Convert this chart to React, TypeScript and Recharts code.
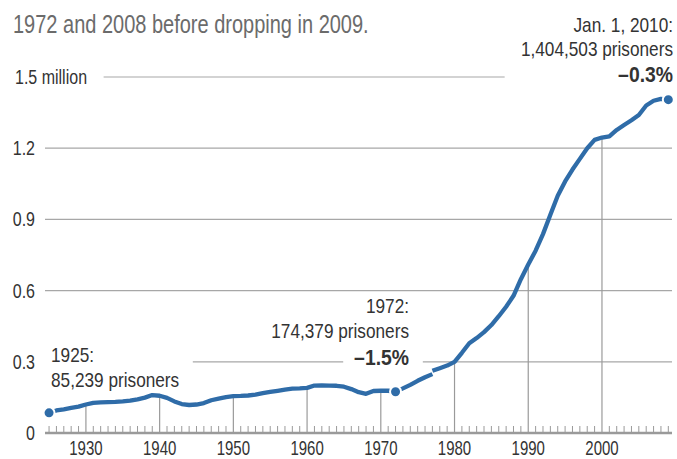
import React from 'react';
import { LineChart, Line, XAxis, YAxis, ReferenceLine, ReferenceDot } from 'recharts';

// state prisoners, millions
const years = [
  1925, 1926, 1927, 1928, 1929, 1930, 1931, 1932, 1933, 1934, 1935, 1936, 1937, 1938, 1939,
  1940, 1941, 1942, 1943, 1944, 1945, 1946, 1947, 1948, 1949, 1950, 1951, 1952, 1953, 1954,
  1955, 1956, 1957, 1958, 1959, 1960, 1961, 1962, 1963, 1964, 1965, 1966, 1967, 1968, 1969,
  1970, 1971, 1972, 1973, 1974, 1975, 1976, 1977, 1978, 1979, 1980, 1981, 1982, 1983, 1984,
  1985, 1986, 1987, 1988, 1989, 1990, 1991, 1992, 1993, 1994, 1995, 1996, 1997, 1998, 1999,
  2000, 2001, 2002, 2003, 2004, 2005, 2006, 2007, 2008, 2009,
];

// 1925-1977
const earlySeries = [
  0.085, 0.095, 0.1, 0.106, 0.111, 0.12, 0.127, 0.129, 0.13, 0.131, 0.133, 0.136, 0.142, 0.149, 0.16,
  0.157, 0.148, 0.133, 0.122, 0.118, 0.12, 0.126, 0.138, 0.145, 0.151, 0.155, 0.156, 0.158, 0.162, 0.168,
  0.173, 0.178, 0.183, 0.187, 0.188, 0.19, 0.2, 0.201, 0.2, 0.199, 0.195, 0.185, 0.172, 0.165, 0.177,
  0.178, 0.178, 0.174, 0.188, 0.203, 0.22, 0.235, 0.248,
];

// 1977-2009
const lateSeries = [
  0.262, 0.273, 0.284, 0.3, 0.338, 0.378, 0.4, 0.425,
  0.455, 0.492, 0.532, 0.578, 0.648, 0.71, 0.768, 0.838, 0.92, 1.0, 1.06, 1.11, 1.155, 1.2, 1.235,
  1.245, 1.25, 1.277, 1.298, 1.318, 1.34, 1.38, 1.4, 1.408, 1.4045,
];

const yTicks = [0, 0.3, 0.6, 0.9, 1.2, 1.5];
const decades = [1930, 1940, 1950, 1960, 1970, 1980, 1990, 2000];
const highlightYears = [1925, 1972, 2009];

const BLUE = '#2f6ca8';
const GRID = '#a7a7a7';
const FONT = '"Liberation Sans", Arial, sans-serif';

const splitYear = earlySeries.length - 1 + years[0];

const data = years.map((year, i) => ({
  year,
  early: year <= splitYear ? earlySeries[i] : null,
  late: year >= splitYear ? lateSeries[i - (earlySeries.length - 1)] : null,
}));

const valueAt = (year: number) => {
  const row = data.find((d) => d.year === year);
  if (!row) return 0;
  return (row.late ?? row.early) as number;
};

// condensed-looking text: horizontal squeeze around the anchor point
const T = ({ x, y, size, anchor = 'start', bold = false, fill = '#333', sx = 0.82, children }: any) => (
  <text
    transform={`translate(${x} ${y}) scale(${sx} 1)`}
    x={0}
    y={0}
    fontSize={size}
    fontFamily={FONT}
    fontWeight={bold ? 'bold' : 'normal'}
    textAnchor={anchor}
    fill={fill}
  >
    {children}
  </text>
);

const YTick = (props: any) => {
  const { y, payload } = props;
  if (payload.value === 1.5) {
    return <T x={15} y={y + 7} size={20} sx={0.8}>1.5 million</T>;
  }
  return (
    <T x={35} y={y + 7} size={20} sx={0.8} anchor="end">
      {payload.value === 0 ? '0' : payload.value.toFixed(1)}
    </T>
  );
};

const XTick = (props: any) => {
  const { x, y, payload } = props;
  const isDecade = decades.includes(payload.value);
  return (
    <g>
      {!isDecade && <line x1={x} x2={x} y1={y - 7} y2={y} stroke="#9a9a9a" strokeWidth={1} />}
      {isDecade && (
        <T x={x} y={y + 22} size={20} sx={0.75} anchor="middle">
          {payload.value}
        </T>
      )}
    </g>
  );
};

export default function App() {
  return (
    <div style={{ position: 'absolute', left: 0, top: 0, width: 677, height: 459, background: '#fff' }}>
      <LineChart width={677} height={459} data={data} margin={{ top: 77, right: 5, bottom: 0, left: 0 }}>
        <XAxis
          type="number"
          dataKey="year"
          domain={[1924.45, 2009.5]}
          ticks={years}
          interval={0}
          height={26}
          tickSize={0}
          tickMargin={0}
          tickLine={false}
          axisLine={{ stroke: '#9a9a9a', strokeWidth: 2.5 }}
          tick={<XTick />}
        />
        <YAxis
          type="number"
          domain={[0, 1.5]}
          ticks={yTicks}
          width={45}
          axisLine={false}
          tickLine={false}
          tick={<YTick />}
        />
        <ReferenceLine y={0.6} stroke={GRID} strokeWidth={1.2} />
        <ReferenceLine y={0.9} stroke={GRID} strokeWidth={1.2} />
        <ReferenceLine y={1.2} stroke={GRID} strokeWidth={1.2} />
        <ReferenceLine segment={[{ x: 1932.4, y: 1.5 }, { x: 1986.8, y: 1.5 }]} stroke={GRID} strokeWidth={1.2} />
        <ReferenceLine segment={[{ x: 1944.5, y: 0.3 }, { x: 1964.9, y: 0.3 }]} stroke={GRID} strokeWidth={1.2} />
        <ReferenceLine segment={[{ x: 1975.7, y: 0.3 }, { x: 2009.5, y: 0.3 }]} stroke={GRID} strokeWidth={1.2} />
        {decades.map((d) => (
          <ReferenceLine
            key={d}
            segment={[{ x: d, y: 0 }, { x: d, y: valueAt(d) }]}
            stroke="#9a9a9a"
            strokeWidth={1.2}
          />
        ))}
        <Line
          dataKey="early"
          stroke={BLUE}
          strokeWidth={4.3}
          dot={false}
          connectNulls={false}
          isAnimationActive={false}
          strokeLinejoin="round"
        />
        <Line
          dataKey="late"
          stroke={BLUE}
          strokeWidth={4.3}
          dot={false}
          connectNulls={false}
          isAnimationActive={false}
          strokeLinejoin="round"
        />
        {highlightYears.map((yr) => (
          <ReferenceDot key={yr} x={yr} y={valueAt(yr)} r={5.5} fill={BLUE} stroke="#fff" strokeWidth={2} />
        ))}
      </LineChart>
      <svg
        width={677}
        height={459}
        style={{ position: 'absolute', left: 0, top: 0, pointerEvents: 'none' }}
      >
        <T x={13} y={33} size={25} sx={0.8} fill="#6b6b6b">1972 and 2008 before dropping in 2009.</T>
        <T x={51} y={362} size={21}>1925:</T>
        <T x={51} y={387} size={21}>85,239 prisoners</T>
        <T x={409} y={313} size={21} anchor="end">1972:</T>
        <T x={409} y={338} size={21} anchor="end">174,379 prisoners</T>
        <T x={409} y={365} size={22} sx={0.88} bold anchor="end">–1.5%</T>
        <T x={673} y={32} size={21} anchor="end">Jan. 1, 2010:</T>
        <T x={673} y={56} size={21} anchor="end">1,404,503 prisoners</T>
        <T x={673} y={82} size={22} sx={0.88} bold anchor="end">–0.3%</T>
      </svg>
    </div>
  );
}
